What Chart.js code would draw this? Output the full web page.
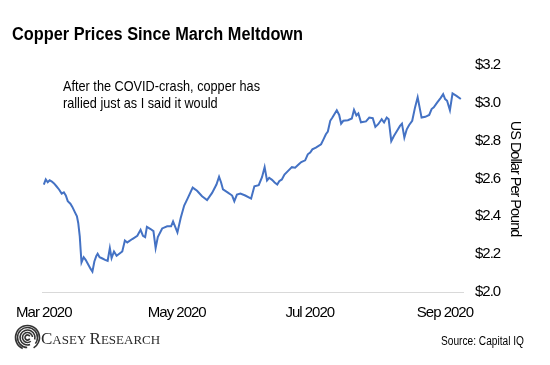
<!DOCTYPE html>
<html>
<head>
<meta charset="utf-8">
<script src="https://cdn.jsdelivr.net/npm/chart.js@4"></script>
<style>
html,body{margin:0;padding:0;background:#fff;}
#wrap{width:550px;height:365px;position:relative;}
</style>
</head>
<body>
<div id="wrap"><canvas id="c" width="550" height="365"></canvas></div>
<script>
// ---- data ----
const chartTitle = "Copper Prices Since March Meltdown";
const noteLines = ["After the COVID-crash, copper has", "rallied just as I said it would"];
const yAxisTitle = "US Dollar Per Pound";
const sourceText = "Source: Capital IQ";
const logoText = "Casey Research";

// days since 1 Mar 2020
const days = [0,0.9,1.8,2.7,3.7,4.7,5.8,7.0,8.2,9.2,10.1,11.0,12.2,13.1,14.3,15.2,15.8,16.5,16.9,17.3,18.3,19.2,20.5,21.5,22.3,23.2,24.1,24.7,25.6,26.9,28.1,29.3,30.3,31.1,32.2,33.4,36.0,37.2,38.3,40.6,42.9,44.4,45.5,46.5,47.3,49.0,50.3,51.3,52.3,54.3,56.6,58.4,59.3,61.3,62.8,64.4,66.0,68.3,70.3,72.6,74.9,77.2,79.2,80.4,81.3,82.2,84.3,86.4,87.4,88.6,90.2,92.4,95.1,96.6,98.6,100.1,101.3,102.4,103.4,104.7,105.9,107.1,108.0,109.2,110.4,112.3,113.8,115.3,116.6,118.1,119.9,121.1,122.2,123.2,124.8,127.2,128.3,129.4,130.3,131.4,132.4,134.4,135.5,136.4,137.4,139.5,141.3,142.3,143.4,144.3,145.5,147.8,149.3,150.9,152.1,153.4,155.0,156.1,157.3,158.2,159.4,160.6,162.2,163.4,164.3,165.4,166.5,167.6,169.0,170.3,171.5,173.3,175.0,176.8,177.9,178.9,180.5,182.0,183.2,184.1,185.0,186.3,187.5,189.3,191.3];
const prices = [2.568,2.595,2.580,2.591,2.584,2.574,2.559,2.542,2.520,2.527,2.510,2.480,2.467,2.450,2.421,2.400,2.365,2.294,2.223,2.156,2.184,2.170,2.143,2.122,2.108,2.161,2.191,2.202,2.184,2.177,2.170,2.165,2.232,2.179,2.214,2.191,2.214,2.272,2.262,2.280,2.297,2.329,2.297,2.290,2.344,2.333,2.322,2.232,2.290,2.336,2.347,2.347,2.373,2.315,2.391,2.457,2.495,2.552,2.535,2.506,2.486,2.524,2.568,2.609,2.580,2.542,2.527,2.510,2.480,2.515,2.520,2.510,2.494,2.559,2.565,2.607,2.660,2.590,2.604,2.593,2.579,2.568,2.586,2.595,2.621,2.643,2.660,2.657,2.671,2.687,2.696,2.728,2.737,2.754,2.763,2.781,2.807,2.834,2.848,2.905,2.922,2.961,2.936,2.890,2.905,2.908,2.917,2.963,2.933,2.944,2.897,2.902,2.922,2.919,2.873,2.887,2.913,2.896,2.922,2.913,2.798,2.825,2.855,2.878,2.890,2.816,2.860,2.883,2.905,2.976,3.029,2.922,2.926,2.936,2.967,2.976,3.002,3.025,3.046,3.020,3.011,2.961,3.050,3.037,3.020];

const xTickDays = [0, 61, 122, 184];
const xTickLabels = ["Mar 2020", "May 2020", "Jul 2020", "Sep 2020"];
const yTicks = [2.0, 2.2, 2.4, 2.6, 2.8, 3.0, 3.2];

// ---- styling ----
const SANS = "'Liberation Sans',Arial,sans-serif";
const SERIF = "'Liberation Serif','Times New Roman',serif";
const LINE_BLUE = "#4472C4";

const n = Math.min(days.length, prices.length);
const points = [];
for (let i = 0; i < n; i++) points.push({x: days[i], y: prices[i]});

// draws text condensed horizontally (the original uses a narrow typeface)
function condensedText(ctx, text, x, y, sx) {
  ctx.save();
  ctx.translate(x, y);
  ctx.scale(sx, 1);
  ctx.fillText(text, 0, 0);
  ctx.restore();
}

const tighten = {
  id: 'tighten',
  beforeDraw(chart) { if ('letterSpacing' in chart.ctx) chart.ctx.letterSpacing = '-1px'; },
  afterDraw(chart) { if ('letterSpacing' in chart.ctx) chart.ctx.letterSpacing = '0px'; }
};

const decor = {
  id: 'decor',
  afterDraw(chart) {
    const ctx = chart.ctx;
    ctx.save();
    if ('letterSpacing' in ctx) ctx.letterSpacing = '0px';
    ctx.fillStyle = '#000';
    ctx.textAlign = 'left';
    ctx.textBaseline = 'alphabetic';
    // title
    ctx.font = "bold 18px " + SANS;
    let w = ctx.measureText(chartTitle).width;
    condensedText(ctx, chartTitle, 12, 40, 291 / w);
    // annotation
    ctx.font = "14.5px " + SANS;
    w = ctx.measureText(noteLines[0]).width;
    const s = 197 / w;
    condensedText(ctx, noteLines[0], 63, 91, s);
    condensedText(ctx, noteLines[1], 63, 107.5, s);
    // source
    ctx.font = "12.5px " + SANS;
    w = ctx.measureText(sourceText).width;
    condensedText(ctx, sourceText, 524 - 83, 345, 83 / w);
    // logo icon: concentric arcs
    ctx.strokeStyle = '#333';
    ctx.lineWidth = 1.6;
    const cx = 27.5, cy = 337.5;
    [2.5, 5, 7.5, 10, 12].forEach((r, i) => {
      ctx.beginPath();
      ctx.arc(cx, cy, r, Math.PI * (0.15 + i * 0.12), Math.PI * (1.85 + i * 0.12));
      ctx.stroke();
    });
    // logo text (small caps)
    ctx.fillStyle = '#2a2a2a';
    const big = "17px " + SERIF, small = "13px " + SERIF;
    const words = logoText.toUpperCase().split(' ');
    let x = 41;
    words.forEach((wd) => {
      ctx.font = big;
      ctx.fillText(wd[0], x, 343.5);
      x += ctx.measureText(wd[0]).width;
      ctx.font = small;
      ctx.fillText(wd.slice(1), x, 343.5);
      x += ctx.measureText(wd.slice(1) + ' ').width;
    });
    ctx.restore();
  }
};

new Chart(document.getElementById('c'), {
  type: 'line',
  data: {
    datasets: [{
      data: points,
      borderColor: LINE_BLUE,
      borderWidth: 2,
      pointRadius: 0,
      tension: 0,
      fill: false
    }]
  },
  options: {
    responsive: false,
    animation: false,
    devicePixelRatio: 1,
    layout: {padding: {top: 65, left: 42, right: 0, bottom: 0}},
    plugins: {legend: {display: false}, tooltip: {enabled: false}, title: {display: false}},
    scales: {
      x: {
        type: 'linear',
        min: -0.5,
        max: 192.3,
        afterBuildTicks: (sc) => { sc.ticks = xTickDays.map(v => ({value: v})); },
        afterFit: (sc) => { sc.height = 73; },
        grid: {display: false, drawTicks: false},
        border: {display: true, color: '#d9d9d9', width: 1},
        ticks: {
          autoSkip: false, maxRotation: 0, padding: 12,
          color: '#000',
          font: {family: SANS, size: 15},
          callback: (v, i) => xTickLabels[i]
        }
      },
      y: {
        position: 'right',
        min: 2.0,
        max: 3.2,
        afterBuildTicks: (sc) => { sc.ticks = yTicks.map(v => ({value: v})); },
        afterFit: (sc) => { sc.width = 87; },
        grid: {display: false, drawTicks: false},
        border: {display: false},
        ticks: {
          padding: 12,
          color: '#000',
          font: {family: SANS, size: 15},
          callback: (v) => '$' + Number(v).toFixed(1)
        },
        title: {
          display: true,
          text: yAxisTitle,
          color: '#000',
          font: {family: SANS, size: 14.5},
          padding: {top: 26, bottom: 0}
        }
      }
    }
  },
  plugins: [tighten, decor]
});
</script>
</body>
</html>
